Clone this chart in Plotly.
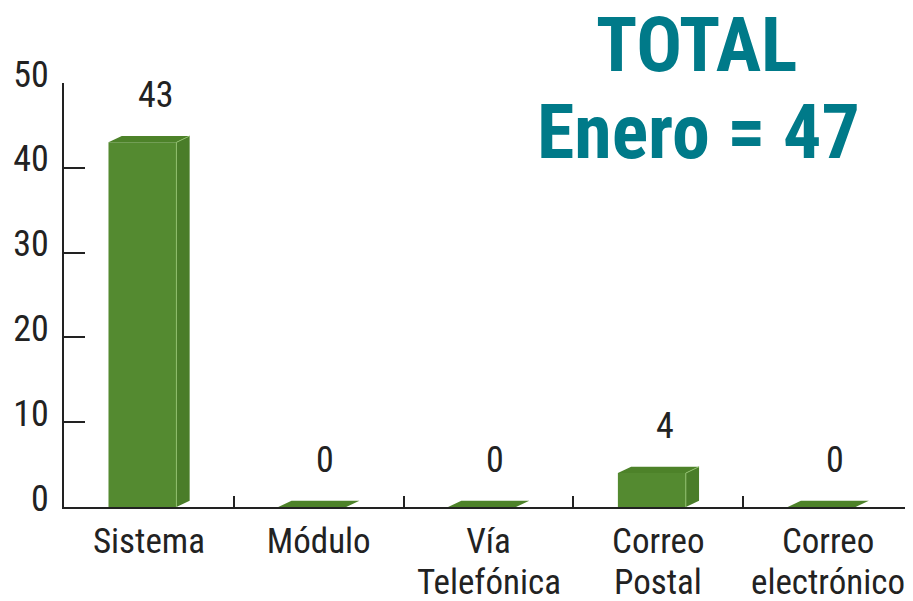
import plotly.graph_objects as go

cat_line1 = ["Sistema", "Módulo", "Vía", "Correo", "Correo"]
cat_line2 = ["", "", "Telefónica", "Postal", "electrónico"]
values = [43, 0, 0, 4, 0]
y_ticks = [0, 10, 20, 30, 40, 50]
title_lines = ["TOTAL", "Enero = 47"]

FONT = "Liberation Sans Narrow, Roboto Condensed, DejaVu Sans Condensed, Arial Narrow, sans-serif"
FRONT = "#548a30"
SIDE = "#4a7d29"
TOP = "#4d8229"
EDGE = "#8fbf6c"
TXT = "#222222"

x_idx = list(range(len(values)))
left_off, right_off = -0.238, 0.162
dx, dy = 0.078, 0.75

fig = go.Figure()
fig.add_trace(go.Bar(
    x=x_idx, y=values, width=right_off - left_off, offset=left_off,
    marker=dict(color=FRONT, line=dict(width=0)), hoverinfo="skip", showlegend=False))

for i, v in zip(x_idx, values):
    x0, x1 = i + left_off, i + right_off
    fig.add_trace(go.Scatter(
        x=[x1, x1 + dx, x1 + dx, x1, x1], y=[0, dy, v + dy, v, 0],
        fill="toself", fillcolor=SIDE, mode="lines", line=dict(width=0),
        hoverinfo="skip", showlegend=False))
    fig.add_trace(go.Scatter(
        x=[x0, x0 + dx, x1 + dx, x1, x0], y=[v, v + dy, v + dy, v, v],
        fill="toself", fillcolor=TOP, mode="lines", line=dict(width=0),
        hoverinfo="skip", showlegend=False))
    if v > 0:
        fig.add_trace(go.Scatter(
            x=[x1, x1, x1 + dx], y=[0, v, v + dy], mode="lines",
            line=dict(color=EDGE, width=1), hoverinfo="skip", showlegend=False))
    fig.add_annotation(x=i + 0.04, y=v, text=str(v), showarrow=False,
                       yanchor="middle", yshift=47,
                       font=dict(family=FONT, size=36, color=TXT))

for i, t in zip(x_idx, cat_line2):
    if t:
        fig.add_annotation(x=i, xref="x", y=0, yref="paper", text=t, showarrow=False,
                           xanchor="center", yanchor="top", yshift=-53,
                           font=dict(family=FONT, size=35, color=TXT))

fig.add_annotation(xref="paper", yref="paper", x=0.745, y=1.090, text=title_lines[0],
                   showarrow=False, xanchor="center", yanchor="middle",
                   font=dict(family=FONT, size=76, color="#007a89", weight="bold"))
fig.add_annotation(xref="paper", yref="paper", x=0.747, y=0.884, text=title_lines[1],
                   showarrow=False, xanchor="center", yanchor="middle",
                   font=dict(family=FONT, size=76, color="#007a89", weight="bold"))

fig.update_layout(
    width=905, height=593,
    margin=dict(l=56, r=0, t=75, b=94),
    plot_bgcolor="white", paper_bgcolor="white",
    font=dict(family=FONT, size=36, color=TXT),
    showlegend=False,
)
fig.update_xaxes(
    range=[-0.5, 4.5], tickvals=x_idx, ticktext=cat_line1, ticks="",
    showgrid=False, zeroline=False, showline=True, linecolor=TXT, linewidth=2,
    automargin=False, ticklabelstandoff=2,
    minor=dict(tickvals=[0.5, 1.5, 2.5, 3.5], ticks="inside", ticklen=11,
               tickcolor=TXT, tickwidth=2, showgrid=False),
    tickfont=dict(family=FONT, size=35, color=TXT),
)
fig.update_yaxes(
    range=[0, 50], tickvals=y_ticks, ticks="inside", ticklen=21, tickwidth=2,
    tickcolor=TXT, showgrid=False, zeroline=False, showline=True,
    linecolor=TXT, linewidth=2, ticklabelstandoff=6, ticklabelshift=-9,
    automargin=False,
    tickfont=dict(family=FONT, size=36, color=TXT),
)

fig.write_html("out.html")
